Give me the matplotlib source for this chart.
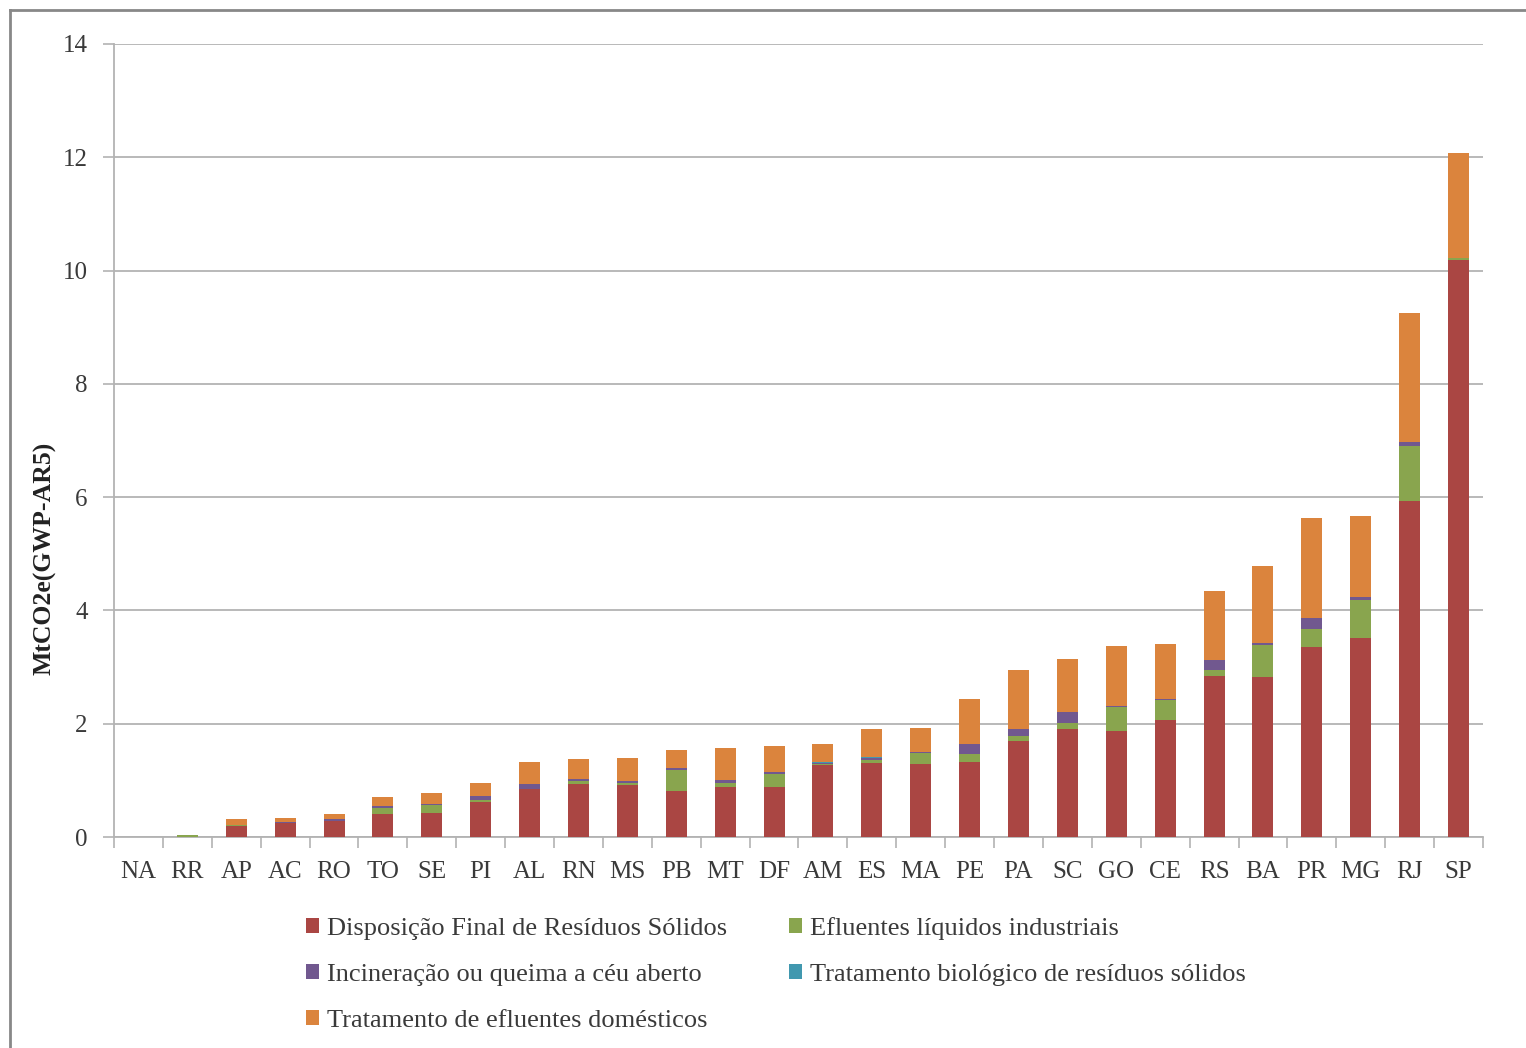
import numpy as np
import matplotlib
matplotlib.use('Agg')
import matplotlib.pyplot as plt
from matplotlib.lines import Line2D
from matplotlib.patches import Patch

states = ['NA', 'RR', 'AP', 'AC', 'RO', 'TO', 'SE', 'PI', 'AL', 'RN', 'MS', 'PB', 'MT', 'DF',
          'AM', 'ES', 'MA', 'PE', 'PA', 'SC', 'GO', 'CE', 'RS', 'BA', 'PR', 'MG', 'RJ', 'SP']

# MtCO2e per source
disposicao = [0.00, 0.00, 0.19, 0.25, 0.29, 0.41, 0.42, 0.62, 0.84, 0.93, 0.92, 0.82, 0.89, 0.89,
              1.27, 1.30, 1.29, 1.33, 1.69, 1.90, 1.87, 2.07, 2.84, 2.82, 3.35, 3.51, 5.93, 10.18]
efl_industriais = [0.00, 0.03, 0.02, 0.00, 0.00, 0.11, 0.14, 0.04, 0.01, 0.05, 0.03, 0.37, 0.06, 0.23,
                   0.02, 0.06, 0.19, 0.14, 0.10, 0.12, 0.43, 0.35, 0.11, 0.57, 0.33, 0.68, 0.97, 0.04]
incineracao = [0.00, 0.00, 0.01, 0.01, 0.02, 0.03, 0.02, 0.06, 0.08, 0.04, 0.03, 0.03, 0.06, 0.03,
               0.01, 0.04, 0.02, 0.18, 0.11, 0.18, 0.02, 0.02, 0.17, 0.03, 0.18, 0.04, 0.08, 0.01]
trat_biologico = [0.00, 0.00, 0.00, 0.00, 0.00, 0.00, 0.00, 0.00, 0.00, 0.00, 0.00, 0.00, 0.00, 0.00,
                  0.03, 0.01, 0.00, 0.00, 0.00, 0.00, 0.00, 0.00, 0.00, 0.00, 0.00, 0.00, 0.00, 0.00]
efl_domesticos = [0.00, 0.00, 0.10, 0.08, 0.10, 0.16, 0.20, 0.24, 0.40, 0.35, 0.41, 0.32, 0.56, 0.46,
                  0.32, 0.50, 0.42, 0.79, 1.05, 0.94, 1.06, 0.96, 1.22, 1.36, 1.78, 1.44, 2.27, 1.84]

series = [
    ('Disposição Final de Resíduos Sólidos', disposicao, '#AA4643'),
    ('Efluentes líquidos industriais', efl_industriais, '#89A54E'),
    ('Incineração ou queima a céu aberto', incineracao, '#71588F'),
    ('Tratamento biológico de resíduos sólidos', trat_biologico, '#4198AF'),
    ('Tratamento de efluentes domésticos', efl_domesticos, '#DB843D'),
]

plt.rcParams['font.family'] = ['Liberation Serif', 'DejaVu Serif']

fig = plt.figure(figsize=(15.26, 10.48), dpi=100)
ax = fig.add_axes([114 / 1526, 1 - 837 / 1048, (1483 - 114) / 1526, (837 - 44) / 1048])

x = np.arange(len(states))
bottom = np.zeros(len(states))
for name, vals, col in series:
    vals = np.array(vals)
    ax.bar(x, vals, width=0.43, bottom=bottom, color=col, label=name, zorder=3)
    bottom += vals

ax.set_xlim(-0.5, len(states) - 0.5)
ax.set_ylim(0, 14)
ax.set_yticks(range(0, 15, 2))
ax.yaxis.grid(True, color='#b3b3b3', linewidth=1.3, zorder=0)

ax.set_xticks(x)
ax.set_xticklabels(states)
ax.set_xticks(np.arange(-0.5, len(states), 1), minor=True)
ax.tick_params(axis='x', which='major', length=0, pad=17, labelsize=18, labelcolor='#3a3a3a')
ax.tick_params(axis='x', which='minor', length=8, width=1.2, color='#b3b3b3')
ax.tick_params(axis='y', length=8, width=1.2, color='#b3b3b3', pad=11, labelsize=18,
               labelcolor='#3a3a3a')

for s in ['top', 'right']:
    ax.spines[s].set_visible(False)
for s in ['left', 'bottom']:
    ax.spines[s].set_color('#b3b3b3')
    ax.spines[s].set_linewidth(1.3)

fig.text(45 / 1526, 1 - 558 / 1048, 'MtCO2e(GWP-AR5)', rotation=90, ha='center', va='center',
         fontsize=18.5, fontweight='bold', color='#222222')

# legend fills row by row: reorder so matplotlib's column-wise fill matches
order = [0, 2, 4, 1, 3]
handles = [Patch(facecolor=series[i][2], label=series[i][0]) for i in order]
fig.legend(handles=handles, loc='upper left', bbox_to_anchor=(282 / 1526, 1 - 893 / 1048),
           ncol=2, frameon=False, fontsize=19, handlelength=0.5, handleheight=0.5,
           handletextpad=0.3, columnspacing=2.35, labelspacing=0.92, labelcolor='#3a3a3a')

# outer frame (left and top edges)
fig.add_artist(Line2D([10 / 1526, 10 / 1526], [0, 1 - 10 / 1048], transform=fig.transFigure,
                      color='#888888', linewidth=2))
fig.add_artist(Line2D([10 / 1526, 1], [1 - 10 / 1048, 1 - 10 / 1048], transform=fig.transFigure,
                      color='#888888', linewidth=2))

fig.savefig('out.png', dpi=100)
